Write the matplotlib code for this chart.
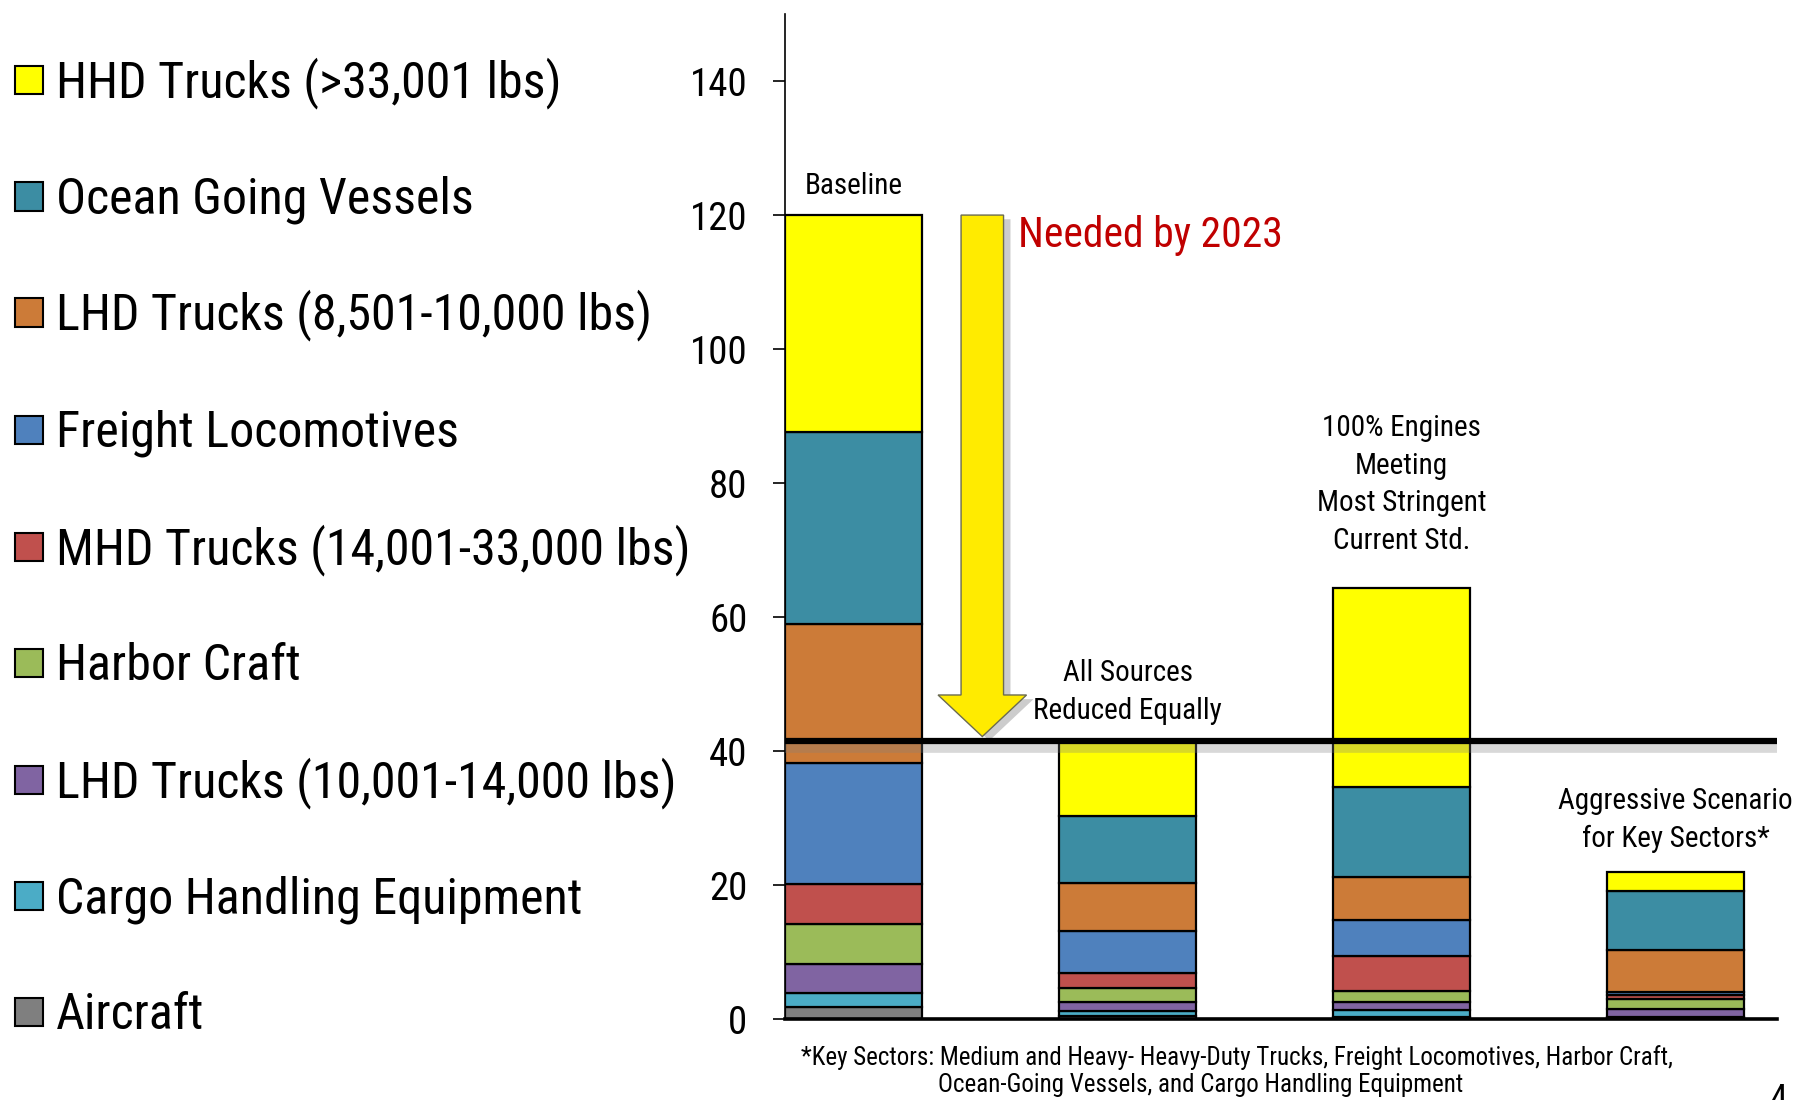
import matplotlib
matplotlib.use("Agg")
import matplotlib.pyplot as plt
from matplotlib.patches import Rectangle, FancyArrow
import matplotlib.patheffects as pe
from matplotlib import font_manager
import numpy as np

# ---------------- data ----------------
categories = [
    "HHD Trucks (>33,001 lbs)",
    "Ocean Going Vessels",
    "LHD Trucks (8,501-10,000 lbs)",
    "Freight Locomotives",
    "MHD Trucks (14,001-33,000 lbs)",
    "Harbor Craft",
    "LHD Trucks (10,001-14,000 lbs)",
    "Cargo Handling Equipment",
    "Aircraft",
]
colors = ["#FFFF00", "#3C8DA3", "#CC7B38", "#4F81BD", "#C0504D",
          "#9BBB59", "#8064A2", "#4BACC6", "#7F7F7F"]

scenario_labels = ["Baseline", "All Sources\nReduced Equally",
                   "100% Engines\nMeeting\nMost Stringent\nCurrent Std.",
                   "Aggressive Scenario\nfor Key Sectors*"]

hhd = [32.3, 11.1, 29.7, 2.8]
ogv = [28.7, 10.0, 13.3, 8.8]
lhd_8501 = [20.7, 7.2, 6.4, 6.3]
freight = [18.1, 6.3, 5.5, 0.5]
mhd = [6.0, 2.2, 5.1, 0.6]
harbor = [5.9, 2.1, 1.7, 1.4]
lhd_10001 = [4.3, 1.4, 1.2, 1.2]
cargo = [2.1, 0.7, 1.1, 0.2]
aircraft = [1.9, 0.5, 0.3, 0.2]

series = [hhd, ogv, lhd_8501, freight, mhd, harbor, lhd_10001, cargo, aircraft]

target = 41.5
arrow_top = 120
yticks = [0, 20, 40, 60, 80, 100, 120, 140]
footnote1 = "*Key Sectors: Medium and Heavy- Heavy-Duty Trucks, Freight Locomotives, Harbor Craft,"
footnote2 = "Ocean-Going Vessels, and Cargo Handling Equipment"

# ---------------- fonts ----------------
names = {f.name for f in font_manager.fontManager.ttflist}
NARROW = "DejaVu Sans"
for cand in ["Roboto Condensed", "Archivo Narrow", "PT Sans Narrow", "Liberation Sans Narrow"]:
    if cand in names:
        NARROW = cand
        break
plt.rcParams["font.family"] = [NARROW, "DejaVu Sans"]

W, H = 1802, 1100
fig = plt.figure(figsize=(W / 100, H / 100), dpi=100)

def fx(px):
    return px / W

def fy(py):
    return 1 - py / H

ax_left, ax_right, ax_top, ax_bot = 785, 1777, 14, 1019.4
ax = fig.add_axes([fx(ax_left), fy(ax_bot), fx(ax_right - ax_left), (ax_bot - ax_top) / H])

x = np.arange(len(hhd))
bottom = np.zeros(len(x))
for vals, col in zip(series[::-1], colors[::-1]):
    ax.bar(x, vals, width=0.5, bottom=bottom, color=col, edgecolor="black",
           linewidth=1.6, zorder=3)
    bottom += np.array(vals)

ax.set_xlim(-0.25, 3.37)
ax.set_ylim(0, 150)
ax.set_yticks(yticks)
ax.set_xticks([])
for s in ["top", "right"]:
    ax.spines[s].set_visible(False)
ax.spines["left"].set_linewidth(1.2)
ax.spines["bottom"].set_linewidth(2.6)
ax.spines["bottom"].set_zorder(5)
ax.tick_params(axis="y", direction="out", length=9, width=1.2, pad=18, labelsize=28)

# target line with shadow
ax.axhline(target, color="black", lw=4.5, zorder=6,
           path_effects=[pe.SimpleLineShadow(offset=(1, -5), shadow_color="gray", alpha=0.3, linewidth=7),
                         pe.Normal()])

# arrow
arr = FancyArrow(0.47, arrow_top, 0, -(arrow_top - 42.2), width=0.155, head_width=0.323,
                 head_length=6.2, length_includes_head=True, facecolor="#FFEB00",
                 edgecolor="#6b6b50", linewidth=1.0, zorder=4,
                 path_effects=[pe.withSimplePatchShadow(offset=(5, -3), shadow_rgbFace="gray", alpha=0.4)])
ax.add_patch(arr)

ax.text(0.602, 116.9, "Needed by 2023", color="#C00000", fontsize=30, ha="left", va="center", zorder=7)

# scenario labels
label_pos = [(0.0, 124.4), (1.0, 48.8), (2.0, 79.8), (3.0, 29.7)]
for (lx, ly), lab in zip(label_pos, scenario_labels):
    ax.text(lx, ly, lab, fontsize=21, ha="center", va="center", linespacing=1.45, zorder=7)

# legend (manual)
leg_y = [80.4, 196.5, 312.5, 429.7, 547, 663, 780, 896, 1012]
sq = 28
for yc, lab, col in zip(leg_y, categories, colors):
    fig.patches.append(Rectangle((fx(15), fy(yc + sq / 2)), sq / W, sq / H, transform=fig.transFigure,
                                 facecolor=col, edgecolor="black", linewidth=1.5))
    fig.text(fx(56), fy(yc + 17), lab, fontsize=36, ha="left", va="baseline")

# footnote
fig.text(fx(801), fy(1058), footnote1, fontsize=18, ha="left", va="center")
fig.text(fx(938), fy(1085), footnote2, fontsize=18, ha="left", va="center")
fig.text(fx(1770), fy(1100), "4", fontsize=26, ha="left", va="center")

fig.savefig("out.png", dpi=100)
